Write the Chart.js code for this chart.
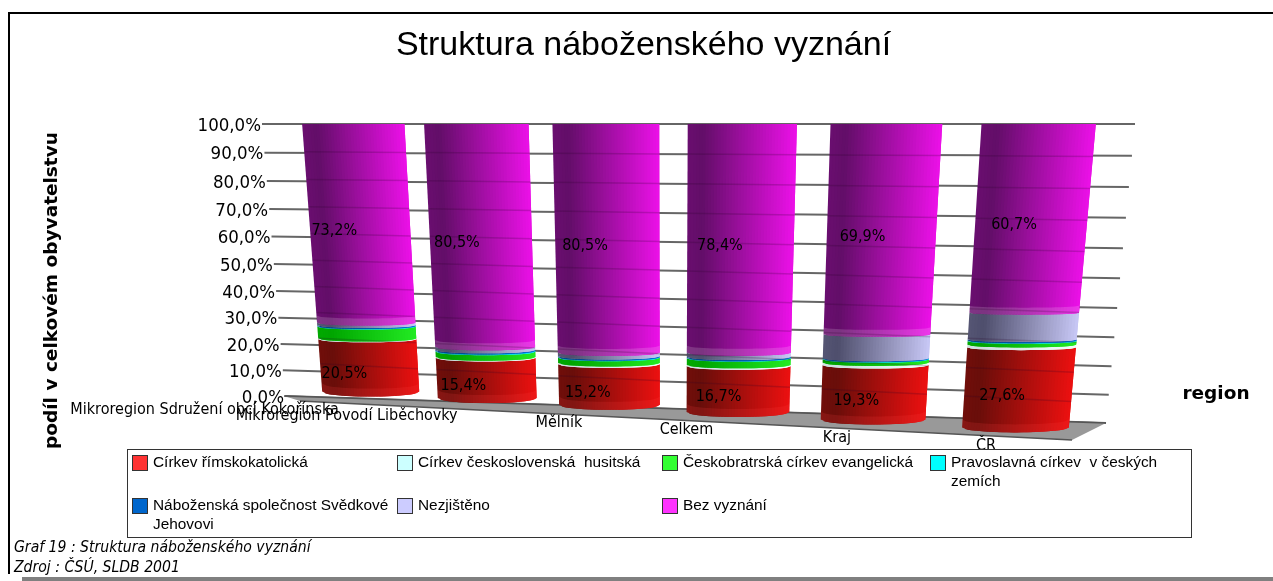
<!DOCTYPE html>
<html>
<head>
<meta charset="utf-8">
<title>Struktura náboženského vyznání</title>
<script src="https://cdn.jsdelivr.net/npm/chart.js@4"></script>
<style>
  html, body { margin: 0; padding: 0; background: #fff; overflow: hidden; }
  #wrap { position: relative; width: 1273px; height: 581px; }
</style>
</head>
<body>
<div id="wrap"><canvas id="chart" width="1273" height="581"></canvas></div>
<script>
const categories = ['Mikroregion Sdružení obcí Kokořínska', 'Mikroregion Povodí Liběchovky', 'Mělník', 'Celkem', 'Kraj', 'ČR'];
const seriesNames = ['Církev římskokatolická', 'Církev československá  husitská', 'Českobratrská církev evangelická', 'Pravoslavná církev  v českých zemích', 'Náboženská společnost Svědkové Jehovovi', 'Nezjištěno', 'Bez vyznání'];

const katolicka = [20.5, 15.4, 15.2, 16.7, 19.3, 27.6];
const husitska = [0.3, 0.3, 0.5, 0.5, 0.9, 0.9];
const evangelicka = [4.5, 2.0, 1.9, 2.3, 1.1, 1.2];
const pravoslavna = [0.2, 0.3, 0.2, 0.2, 0.2, 0.2];
const svedkove = [0.4, 0.4, 0.4, 0.4, 0.3, 0.4];
const nezjisteno = [0.9, 1.1, 1.3, 1.5, 8.3, 9.0];
const bezVyznani = [73.2, 80.5, 80.5, 78.4, 69.9, 60.7];

const tickValues = [0, 10, 20, 30, 40, 50, 60, 70, 80, 90, 100];
const tickLabels = ['0,0%', '10,0%', '20,0%', '30,0%', '40,0%', '50,0%', '60,0%', '70,0%', '80,0%', '90,0%', '100,0%'];

const swatchColors = ['#ff3333', '#ccffff', '#33ff33', '#00ffff', '#0066cc', '#ccccff', '#ff33ff'];
// [dark side, lit side] of each cylinder
const shadeColors = [
  [[105, 14, 10], [236, 16, 16]],
  [[205, 225, 225], [240, 255, 252]],
  [[0, 165, 0], [35, 235, 35]],
  [[0, 170, 170], [0, 245, 245]],
  [[0, 70, 140], [0, 115, 215]],
  [[78, 78, 108], [200, 200, 246]],
  [[98, 14, 104], [236, 16, 232]]
];

const sans = '"Liberation Sans", Arial, sans-serif';
const tahoma = '"DejaVu Sans Condensed", "DejaVu Sans", sans-serif';

// square -> quad perspective mapping
function makeQuad(tl, tr, br, bl) {
  const dx1 = tr[0] - br[0], dx2 = bl[0] - br[0], sx = tl[0] - tr[0] + br[0] - bl[0];
  const dy1 = tr[1] - br[1], dy2 = bl[1] - br[1], sy = tl[1] - tr[1] + br[1] - bl[1];
  const den = dx1 * dy2 - dx2 * dy1;
  const g = (sx * dy2 - dx2 * sy) / den;
  const h = (dx1 * sy - sx * dy1) / den;
  const a = tr[0] - tl[0] + g * tr[0], b = bl[0] - tl[0] + h * bl[0];
  const d = tr[1] - tl[1] + g * tr[1], e = bl[1] - tl[1] + h * bl[1];
  return (u, v) => {
    const w = g * u + h * v + 1;
    return [(a * u + b * v + tl[0]) / w, (d * u + e * v + tl[1]) / w];
  };
}

const wallQuad = makeQuad([262, 124], [1135, 124], [1106, 423], [285, 396]);
const barQuad = makeQuad([293.5, 124], [1117.5, 124], [1089, 431.5], [314, 388.5]);

const STRIPS = 36;
const SAG = 5;

function sagAt(t, value) {
  const f = 1 - value / 100;
  return SAG * f * f * Math.sqrt(Math.max(0, 1 - (2 * t - 1) * (2 * t - 1)));
}

function shade(pair, t) {
  const p = t < 0.14 ? 0.06 * (1 - t / 0.14) : (t - 0.14) / 0.86;
  const c = pair[0].map((v, i) => Math.round(v + (pair[1][i] - v) * Math.min(1, p)));
  return 'rgb(' + c.join(',') + ')';
}

const warpPlugin = {
  id: 'warp',
  beforeDatasetsDraw(chart) {
    const ctx = chart.ctx, area = chart.chartArea, yScale = chart.scales.y;
    const toBar = (px, py) => barQuad((px - area.left) / area.width, (py - area.top) / area.height);
    const wallAt = value => (yScale.getPixelForValue(value) - area.top) / area.height;
    // the far bars get less wide than the perspective alone would make them
    const barWidth = (el, j) => el.width * (1.04 - 0.03 * j);

    ctx.save();
    ctx.fillStyle = '#000';
    ctx.fillRect(8, 12, 1265, 2);
    ctx.fillRect(8, 12, 2, 562);
    ctx.fillStyle = '#808080';
    ctx.fillRect(22, 577, 1251, 4);

    // title and captions
    ctx.textBaseline = 'middle';
    ctx.fillStyle = '#000';
    ctx.textAlign = 'center';
    ctx.font = '34px ' + sans;
    ctx.fillText('Struktura náboženského vyznání', 643.5, 46);
    ctx.textAlign = 'left';
    ctx.font = 'italic 15.6px ' + tahoma;
    ctx.fillText('Graf 19 : Struktura náboženského vyznání', 14, 548);
    ctx.fillText('Zdroj : ČSÚ, SLDB 2001', 14, 568);

    // axis titles
    ctx.font = 'bold 18.5px "DejaVu Sans", sans-serif';
    ctx.textAlign = 'center';
    ctx.fillText('region', 1216, 394);
    ctx.save();
    ctx.translate(52, 290.5);
    ctx.rotate(-Math.PI / 2);
    ctx.fillText('podíl v celkovém obyvatelstvu', 0, 0);
    ctx.restore();

    // back wall gridlines
    ctx.strokeStyle = '#666';
    ctx.lineWidth = 2;
    tickValues.forEach(value => {
      const a = wallQuad(0, wallAt(value)), b = wallQuad(1, wallAt(value));
      ctx.beginPath();
      ctx.moveTo(a[0], a[1]);
      ctx.lineTo(b[0], b[1]);
      ctx.stroke();
    });

    // floor
    ctx.fillStyle = '#999';
    ctx.beginPath();
    ctx.moveTo(284, 396);
    ctx.lineTo(1106, 423);
    ctx.lineTo(1072, 440);
    ctx.lineTo(300, 401);
    ctx.closePath();
    ctx.fill();
    ctx.strokeStyle = '#555';
    ctx.lineWidth = 1.5;
    ctx.beginPath();
    ctx.moveTo(300, 401);
    ctx.lineTo(1072, 440);
    ctx.moveTo(284, 396);
    ctx.lineTo(1106, 423);
    ctx.stroke();

    // cylinders, one thin strip at a time so the shading follows the lean
    chart.data.datasets.forEach((ds, di) => {
      const meta = chart.getDatasetMeta(di);
      meta.data.forEach((el, j) => {
        let low = 0;
        for (let k = 0; k < di; k++) low += chart.data.datasets[k].data[j];
        const high = low + ds.data[j];
        const w = barWidth(el, j);
        const left = el.x - w / 2;
        const yTop = toBar(el.x, el.y)[1], yBase = toBar(el.x, el.base)[1];
        for (let s = 0; s < STRIPS; s++) {
          const t0 = s / STRIPS, tm = (s + 0.5) / STRIPS;
          // strips overlap the next one, otherwise the edges show as a moire
          const t1 = Math.min(1, (s + 2) / STRIPS);
          const x0 = left + w * t0, x1 = left + w * t1;
          const q = [toBar(x0, el.y), toBar(x1, el.y), toBar(x1, el.base), toBar(x0, el.base)];
          const yA = yTop + sagAt(t0, high), yB = yTop + sagAt(t1, high);
          const yC = yBase + sagAt(t1, low), yD = yBase + sagAt(t0, low);
          ctx.fillStyle = shade(shadeColors[di], tm);
          ctx.beginPath();
          ctx.moveTo(q[0][0], yA);
          ctx.lineTo(q[1][0], yB);
          ctx.lineTo(q[2][0], yC);
          ctx.lineTo(q[3][0], yD);
          ctx.closePath();
          ctx.fill();
        }
        // paler rim at the lower end of the magenta and red segments
        if (di === 6 || di === 0) {
          const band = di === 6 ? 7 : 8;
          ctx.fillStyle = di === 6 ? 'rgba(255,255,255,0.16)' : 'rgba(255,70,70,0.16)';
          const n = 24;
          ctx.beginPath();
          for (let s = 0; s <= n; s++) {
            const t = s / n, p = toBar(left + w * t, el.base);
            ctx.lineTo(p[0], yBase + sagAt(t, low) - band);
          }
          for (let s = n; s >= 0; s--) {
            const t = s / n, p = toBar(left + w * t, el.base);
            ctx.lineTo(p[0], yBase + sagAt(t, low));
          }
          ctx.closePath();
          ctx.fill();
        }
      });
    });

    // gridlines show faintly through the bars
    ctx.strokeStyle = 'rgba(40,0,40,0.2)';
    ctx.lineWidth = 1.5;
    chart.getDatasetMeta(0).data.forEach((el, j) => {
      const w = barWidth(el, j);
      tickValues.slice(1, -1).forEach(value => {
        const py = yScale.getPixelForValue(value);
        const a = toBar(el.x - w / 2, py), b = toBar(el.x + w / 2, py);
        ctx.beginPath();
        ctx.moveTo(a[0], a[1]);
        ctx.lineTo(b[0], b[1]);
        ctx.stroke();
      });
    });

    // tick labels
    ctx.fillStyle = '#000';
    ctx.textAlign = 'right';
    ctx.font = '18.5px ' + tahoma;
    tickValues.forEach((value, i) => {
      const a = wallQuad(0, wallAt(value));
      ctx.fillText(tickLabels[i], a[0] - 1, a[1] + 2);
    });

    // value labels: only the first and last series carry them
    ctx.textAlign = 'center';
    ctx.font = '16px ' + tahoma;
    [0, 6].forEach(di => {
      chart.getDatasetMeta(di).data.forEach((el, j) => {
        const p = toBar(el.x - el.width * 0.26, (el.y + el.base) / 2);
        const text = chart.data.datasets[di].data[j].toFixed(1).replace('.', ',') + '%';
        const yMid = toBar(el.x, (el.y + el.base) / 2)[1];
        ctx.fillText(text, p[0] + (p[0] - 340) * 0.024, yMid + (di === 0 ? 8 : 5));
      });
    });

    // category labels end under the left part of each bar
    ctx.textAlign = 'right';
    ctx.font = '16px ' + tahoma;
    chart.getDatasetMeta(0).data.forEach((el, j) => {
      const p = toBar(el.x - el.width * 0.25, el.base);
      const yBase = toBar(el.x, el.base)[1];
      ctx.fillText(chart.data.labels[j], p[0] + (p[0] - 620) * 0.03, yBase + 18);
    });

    drawLegend(ctx, chart);
    ctx.restore();
    return false;
  }
};

function wrapText(ctx, text, maxWidth) {
  const lines = [];
  let line = '';
  text.split(' ').forEach(word => {
    const next = line === '' ? word : line + ' ' + word;
    if (ctx.measureText(next).width > maxWidth && line !== '') {
      lines.push(line);
      line = word;
    } else {
      line = next;
    }
  });
  lines.push(line);
  return lines;
}

function drawLegend(ctx, chart) {
  const colX = [132, 397, 662, 930];
  const rowY = [463, 506];
  ctx.fillStyle = '#fff';
  ctx.fillRect(127, 449, 1064, 88);
  ctx.strokeStyle = '#333';
  ctx.lineWidth = 1;
  ctx.strokeRect(127.5, 449.5, 1064, 88);
  ctx.font = '15.4px ' + sans;
  ctx.textAlign = 'left';
  chart.data.datasets.forEach((ds, i) => {
    const x = colX[i % 4], y = rowY[Math.floor(i / 4)];
    ctx.fillStyle = swatchColors[i];
    ctx.fillRect(x + 0.5, y - 7.5, 15, 15);
    ctx.strokeStyle = '#333';
    ctx.strokeRect(x + 0.5, y - 7.5, 15, 15);
    ctx.fillStyle = '#000';
    wrapText(ctx, ds.label, 245).forEach((line, n) => {
      ctx.fillText(line, x + 21, y + n * 19);
    });
  });
}

const seriesValues = [katolicka, husitska, evangelicka, pravoslavna, svedkove, nezjisteno, bezVyznani];

new Chart(document.getElementById('chart').getContext('2d'), {
  type: 'bar',
  data: {
    labels: categories,
    datasets: seriesNames.map((name, i) => ({
      label: name,
      data: seriesValues[i],
      backgroundColor: swatchColors[i],
      barPercentage: 0.82,
      categoryPercentage: 1
    }))
  },
  options: {
    responsive: false,
    animation: false,
    events: [],
    layout: { padding: 0 },
    plugins: {
      legend: { display: false },
      title: { display: false },
      tooltip: { enabled: false }
    },
    scales: {
      x: { stacked: true, display: false },
      y: { stacked: true, display: false, min: 0, max: 100, ticks: { stepSize: 10 } }
    }
  },
  plugins: [warpPlugin]
});
</script>
</body>
</html>
